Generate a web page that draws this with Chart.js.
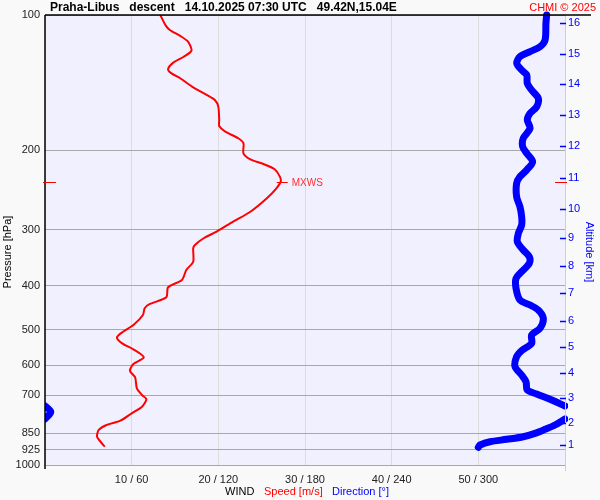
<!DOCTYPE html>
<html>
<head>
<meta charset="utf-8">
<script src="https://cdn.jsdelivr.net/npm/chart.js@4"></script>
<style>
  body { margin: 0; background: #f9f9f9; }
  #wrap { width: 600px; height: 500px; }
</style>
</head>
<body>
<div id="wrap"><canvas id="sounding" width="600" height="500"></canvas></div>
<script>
// Praha-Libus descent sounding - wind profile

// wind speed [m/s] vs pressure [hPa]
const speedP = [100, 105.3, 108, 111.3, 114.6, 120, 123.8, 127.6, 132, 134.8,
  138.2, 144.8, 150.6, 154.5, 159.9, 171.2, 176.5, 181.7, 187.9, 192.8,
  202.9, 209.3, 214.3, 220.2, 228.7, 234.6, 242.7, 255.4, 273.6, 287.9,
  303, 313.4, 324.4, 329.9, 353.4, 368.7, 388, 402.8, 424, 438.7,
  448.5, 464.2, 488.6, 505.6, 520.3, 536.6, 553.3, 576.5, 596.6, 617.4,
  638.6, 675.6, 699.1, 714.5, 742, 767.6, 797.2, 814.9, 836, 865.2,
  887.7, 910.7];
const speed = [13.3, 13.9, 14.4, 15.6, 16.5, 16.9, 16.0, 14.8, 14.2, 14.6,
  15.6, 17.1, 18.7, 19.6, 20.0, 20.1, 20.1, 20.8, 22.3, 22.9,
  22.9, 23.7, 25.2, 26.5, 27.1, 27.2, 26.7, 25.6, 23.7, 21.7,
  19.8, 18.3, 17.3, 17.1, 17.1, 16.3, 15.8, 14.2, 14.0, 12.1,
  11.5, 11.3, 10.2, 9.0, 8.3, 8.9, 10.2, 11.4, 10.2, 9.8,
  10.4, 10.6, 11.2, 11.7, 11.2, 10.0, 8.7, 7.1, 6.2, 6.0,
  6.4, 6.9];

// wind direction [deg] vs pressure [hPa]; null = break where it wraps 360 -> 0
const dirP = [100, 104.3, 113.7, 117.6, 120.6, 123.8, 128, 132.5, 135.9, 141.9,
  146.8, 153.1, 159.9, 165.4, 171.2, 178.6, 187.9, 196.2, 202.9, 211.8,
  221, 228.7, 236.6, 253.4, 266.7, 280.7, 292.9, 305.6, 319, 332.8,
  344.4, 356.3, 371.9, 384.7, 404.9, 430, 441.1, 452.5, 472.1, 496.8,
  514.3, 536.6, 557.2, 574.5, 604.6, 631, 653, 681.3, 695.4, 714.5,
  739.4, 739.4, 739.4, 762.4, 790.3, 790.3, 790.3, 814.9, 833.1, 850.4,
  865.2, 876.9, 887.7, 902.6, 913.3];
const dir = [347.3, 346.8, 346.2, 342.7, 335.8, 328.8, 326.6, 330, 333.5, 333.9,
  336.9, 341.5, 340.4, 335.8, 333.9, 335.8, 331.1, 330.7, 333.5, 337.6,
  333.5, 328.8, 326.5, 326.5, 328.8, 330, 330, 327.7, 327, 331.1,
  335.3, 335.3, 330, 326.1, 326.1, 328.8, 335.8, 341.5, 345, 342.7,
  336.9, 336.9, 330, 326.5, 325.4, 330, 333, 333.9, 340.4, 349.6,
  360, null, 0, 4, 0, null, 360, 353.1, 346.2, 339.2,
  331.1, 319.6, 308.1, 301.2, 300];

// axis ticks
const pressureTicks = [100, 200, 300, 400, 500, 600, 700, 850, 925, 1000];
const speedTicks = [10, 20, 30, 40, 50];
const dirTicks = [60, 120, 180, 240, 300];
const altKm = [1, 2, 3, 4, 5, 6, 7, 8, 9, 10, 11, 12, 13, 14, 15, 16];
const altP = [902.6, 806.5, 709.9, 624.5, 546.9, 478.6, 414.7, 361.3, 313.1, 269.9,
  230.2, 195.5, 166.8, 142.3, 122.1, 104.0];

const FONT = '"Liberation Sans", Arial, sans-serif';
Chart.defaults.font.family = FONT;
Chart.defaults.font.size = 11;
Chart.defaults.color = '#222';

const maxIdx = speed.indexOf(Math.max(...speed));

const decor = {
  id: 'decor',
  beforeDraw(chart) {
    const { ctx, chartArea: a } = chart;
    ctx.save();
    ctx.fillStyle = '#f9f9f9';
    ctx.fillRect(0, 0, chart.width, chart.height);
    ctx.fillStyle = '#f0f0ff';
    ctx.fillRect(a.left, a.top, a.right - a.left, a.bottom - a.top);
    ctx.restore();
  },
  afterDraw(chart) {
    const { ctx, chartArea: a, scales } = chart;
    ctx.save();

    // frame
    ctx.strokeStyle = '#cfcfcf';
    ctx.lineWidth = 1;
    ctx.beginPath();
    ctx.moveTo(a.right + 0.5, a.top);
    ctx.lineTo(a.right + 0.5, a.bottom + 6);
    ctx.stroke();
    ctx.strokeStyle = '#000';
    ctx.lineWidth = 1.5;
    ctx.beginPath();
    ctx.moveTo(a.left, a.top);
    ctx.lineTo(chart.width - 9, a.top);
    ctx.moveTo(a.left, a.top);
    ctx.lineTo(a.left, a.bottom + 4);
    ctx.stroke();

    // altitude ticks
    ctx.strokeStyle = '#0000ff';
    ctx.lineWidth = 1.5;
    altP.forEach(p => {
      const y = Math.round(scales.y2.getPixelForValue(p)) + 0.5;
      ctx.beginPath();
      ctx.moveTo(a.right - 5, y);
      ctx.lineTo(a.right + 1, y);
      ctx.stroke();
    });

    // max wind marker
    const py = Math.round(scales.y.getPixelForValue(speedP[maxIdx])) + 0.5;
    const px = scales.x.getPixelForValue(speed[maxIdx]);
    ctx.strokeStyle = '#ff0000';
    ctx.lineWidth = 1;
    ctx.beginPath();
    ctx.moveTo(a.left - 2, py); ctx.lineTo(a.left + 11, py);
    ctx.moveTo(a.right - 10, py); ctx.lineTo(a.right + 2, py);
    ctx.moveTo(px - 4, py); ctx.lineTo(px + 7, py);
    ctx.stroke();
    ctx.fillStyle = '#ff3030';
    ctx.font = '10px ' + FONT;
    ctx.textBaseline = 'middle';
    ctx.fillText('MXWS', px + 11, py + 1);

    // title
    ctx.fillStyle = '#000';
    ctx.font = 'bold 12px ' + FONT;
    ctx.textAlign = 'left';
    ctx.fillText('Praha-Libus   descent   14.10.2025 07:30 UTC   49.42N,15.04E', 50, 8);
    ctx.fillStyle = '#ff0000';
    ctx.font = '11px ' + FONT;
    ctx.textAlign = 'right';
    ctx.fillText('CHMI \u00a9 2025', 596, 8);

    // bottom caption
    ctx.textAlign = 'left';
    ctx.fillStyle = '#000';
    ctx.fillText('WIND', 225, 492);
    ctx.fillStyle = '#ff0000';
    ctx.fillText('Speed [m/s]', 264, 492);
    ctx.fillStyle = '#0000ff';
    ctx.fillText('Direction [\u00b0]', 332, 492);

    // axis titles
    ctx.textAlign = 'center';
    ctx.save();
    ctx.translate(8, 252);
    ctx.rotate(-Math.PI / 2);
    ctx.fillStyle = '#000';
    ctx.fillText('Pressure [hPa]', 0, 0);
    ctx.restore();
    ctx.save();
    ctx.translate(589, 252);
    ctx.rotate(Math.PI / 2);
    ctx.fillStyle = '#0000ff';
    ctx.fillText('Altitude [km]', 0, 0);
    ctx.restore();

    ctx.restore();
  }
};

new Chart(document.getElementById('sounding'), {
  type: 'scatter',
  data: {
    datasets: [{
      label: 'Direction',
      data: dir.map((d, i) => ({ x: d, y: dirP[i] })),
      xAxisID: 'x2',
      yAxisID: 'y',
      showLine: true,
      borderColor: '#0000ff',
      borderWidth: 7,
      borderCapStyle: 'round',
      borderJoinStyle: 'round',
      tension: 0.3,
      pointRadius: 0,
      clip: { left: 0, right: 3, top: 4, bottom: 0 }
    }, {
      label: 'Speed',
      data: speed.map((s, i) => ({ x: s, y: speedP[i] })),
      xAxisID: 'x',
      yAxisID: 'y',
      showLine: true,
      borderColor: '#ff0000',
      borderWidth: 2,
      tension: 0.25,
      pointRadius: 0
    }]
  },
  options: {
    responsive: false,
    animation: false,
    layout: { padding: { top: 15, left: 0, right: 0, bottom: 0 } },
    plugins: {
      legend: { display: false },
      tooltip: { enabled: false }
    },
    scales: {
      x: {
        type: 'linear',
        position: 'bottom',
        min: 0,
        max: 60,
        afterBuildTicks: s => { s.ticks = [0, ...speedTicks, 60].map(v => ({ value: v })); },
        afterFit: s => { s.height = 35; },
        grid: { color: '#dcdcdc', drawTicks: false },
        border: { display: false },
        ticks: {
          autoSkip: false,
          maxRotation: 0,
          padding: 8,
          color: '#222',
          callback: v => {
            const i = speedTicks.indexOf(v);
            return i < 0 ? '' : v + ' / ' + dirTicks[i];
          }
        }
      },
      x2: { type: 'linear', min: 0, max: 360, display: false },
      y: {
        type: 'logarithmic',
        position: 'left',
        min: 100,
        max: 1000,
        reverse: true,
        afterBuildTicks: s => { s.ticks = pressureTicks.map(v => ({ value: v })); },
        afterFit: s => { s.width = 45; },
        grid: { color: '#a8a8a8', drawTicks: false },
        border: { display: false },
        ticks: { autoSkip: false, padding: 5, color: '#222', callback: v => String(v) }
      },
      y2: {
        type: 'logarithmic',
        position: 'right',
        min: 100,
        max: 1000,
        reverse: true,
        afterBuildTicks: s => { s.ticks = altP.map(v => ({ value: v })); },
        afterFit: s => { s.width = 35; },
        grid: { display: false, drawTicks: false },
        border: { display: false },
        ticks: {
          autoSkip: false,
          padding: 3,
          color: '#0000ff',
          callback: (v, i) => String(altKm[i])
        }
      }
    }
  },
  plugins: [decor]
});
</script>
</body>
</html>
